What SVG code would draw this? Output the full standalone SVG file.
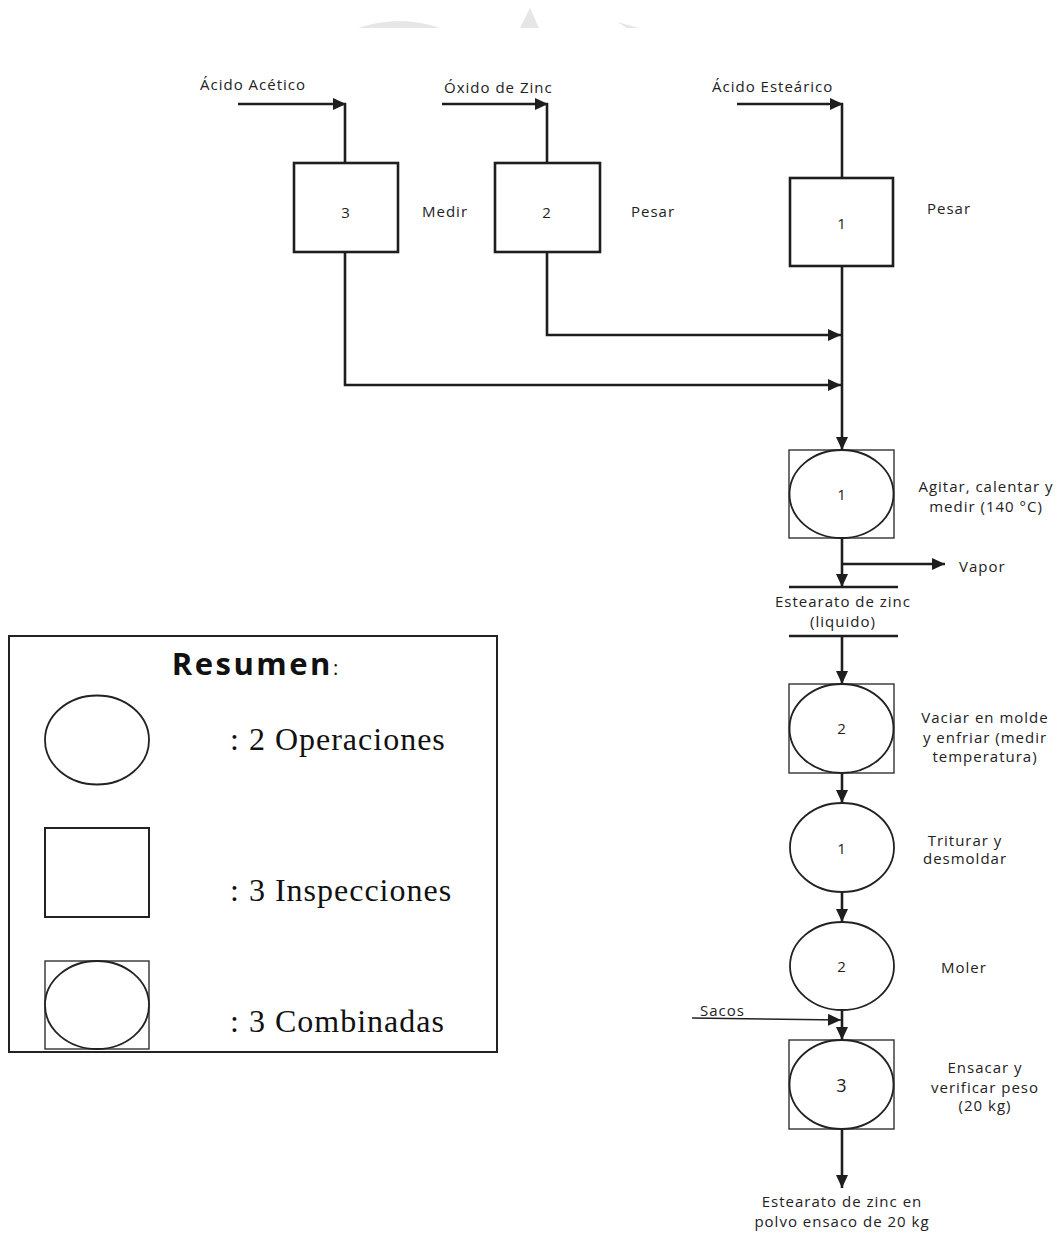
<svg xmlns="http://www.w3.org/2000/svg" width="1060" height="1234" viewBox="0 0 1060 1234">
<style>
.t{font-family:"Open Sans","Noto Sans",sans-serif;font-size:15px;fill:#222;letter-spacing:1px}
.m{text-anchor:middle}
.ln{fill:none;stroke:#1e1e1e;stroke-width:2.6}
.thin{fill:none;stroke:#222;stroke-width:1.5}
.sq{fill:#fff;stroke:#1e1e1e;stroke-width:2.6}
.cb{fill:#fff;stroke:#333;stroke-width:1.4}
.el{fill:#fff;stroke:#222;stroke-width:1.8}
.lg{font-family:"Liberation Serif","Times New Roman",serif;font-size:32px;fill:#111;letter-spacing:1px}
</style>
<defs>
<marker id="ah" markerUnits="userSpaceOnUse" markerWidth="14" markerHeight="12" refX="13" refY="6" orient="auto">
<path d="M0,0 L13,6 L0,12 Z" fill="#1e1e1e"/>
</marker>
</defs>
<rect width="1060" height="1234" fill="#fff"/>
<g id="watermark" fill="#e6e6e6">
<path d="M358,28 Q400,14 440,28 Z"/>
<path d="M520,28 L530,8 L539,28 Z"/>
<path d="M617,22 L639,28 L627,28 Z"/>
</g>
<g id="connectors">
<path class="ln" d="M238,104 H346" marker-end="url(#ah)"/>
<path class="ln" d="M345,103 V163"/>
<path class="ln" d="M442,104 H548" marker-end="url(#ah)"/>
<path class="ln" d="M547,103 V163"/>
<path class="ln" d="M737,104 H843" marker-end="url(#ah)"/>
<path class="ln" d="M842,103 V178"/>
<path class="ln" d="M547,252 V335 H841" marker-end="url(#ah)"/>
<path class="ln" d="M345,252 V385 H841" marker-end="url(#ah)"/>
<path class="ln" d="M842,266 V450" marker-end="url(#ah)"/>
<path class="ln" d="M842,538 V587" marker-end="url(#ah)"/>
<path class="ln" d="M842,564 H945" marker-end="url(#ah)"/>
<path class="ln" d="M789,587 H898 M789,636 H898"/>
<path class="ln" d="M842,636 V684" marker-end="url(#ah)"/>
<path class="ln" d="M842,773 V803" marker-end="url(#ah)"/>
<path class="ln" d="M842,892 V922" marker-end="url(#ah)"/>
<path class="ln" d="M842,1010 V1040" marker-end="url(#ah)"/>
<path class="thin" d="M692,1018 L841,1020" marker-end="url(#ah)"/>
<path class="ln" d="M842,1129 V1188" marker-end="url(#ah)"/>
</g>
<g id="inputs">
<text class="t" x="200" y="90">Ácido Acético</text>
<text class="t" x="444" y="93">Óxido de Zinc</text>
<text class="t" x="712" y="92">Ácido Esteárico</text>
</g>
<g id="insp3">
<rect class="sq" x="294" y="163" width="104" height="89"/>
<text class="t m" x="346" y="218">3</text>
<text class="t" x="422" y="217">Medir</text>
</g>
<g id="insp2">
<rect class="sq" x="495" y="163" width="105" height="89"/>
<text class="t m" x="547" y="218">2</text>
<text class="t" x="631" y="217">Pesar</text>
</g>
<g id="insp1">
<rect class="sq" x="790" y="178" width="103" height="88"/>
<text class="t m" x="842" y="229">1</text>
<text class="t" x="927" y="214">Pesar</text>
</g>
<g id="comb1">
<rect class="cb" x="789" y="450" width="105" height="88"/>
<ellipse class="el" cx="841.5" cy="494" rx="52" ry="44"/>
<text class="t m" x="842" y="500">1</text>
<text class="t m" x="986" y="492">Agitar, calentar y</text>
<text class="t m" x="986" y="512">medir (140 °C)</text>
</g>
<g id="vapor"><text class="t" x="959" y="572">Vapor</text></g>
<g id="liquido">
<text class="t m" x="843" y="607">Estearato de zinc</text>
<text class="t m" x="843" y="627">(liquido)</text>
</g>
<g id="comb2">
<rect class="cb" x="789" y="684" width="105" height="89"/>
<ellipse class="el" cx="841.5" cy="728.5" rx="52" ry="44.5"/>
<text class="t m" x="842" y="734">2</text>
<text class="t m" x="985" y="723">Vaciar en molde</text>
<text class="t m" x="985" y="743">y enfriar (medir</text>
<text class="t m" x="985" y="762">temperatura)</text>
</g>
<g id="op1">
<ellipse class="el" cx="842" cy="847.5" rx="52" ry="44.5"/>
<text class="t m" x="842" y="854">1</text>
<text class="t m" x="965" y="846">Triturar y</text>
<text class="t m" x="965" y="864">desmoldar</text>
</g>
<g id="op2">
<ellipse class="el" cx="842" cy="966" rx="52" ry="44"/>
<text class="t m" x="842" y="972">2</text>
<text class="t" x="941" y="973">Moler</text>
</g>
<g id="sacos"><text class="t" x="700" y="1016">Sacos</text></g>
<g id="comb3">
<rect class="cb" x="789" y="1040" width="105" height="89"/>
<ellipse class="el" cx="841.5" cy="1084.5" rx="52" ry="44.5"/>
<text class="t m" x="842" y="1092" style="font-size:18px">3</text>
<text class="t m" x="985" y="1073">Ensacar y</text>
<text class="t m" x="985" y="1093">verificar peso</text>
<text class="t m" x="985" y="1111">(20 kg)</text>
</g>
<g id="output">
<text class="t m" x="842" y="1207">Estearato de zinc en</text>
<text class="t m" x="842" y="1227">polvo ensaco de 20 kg</text>
</g>
<g id="legend">
<rect x="9" y="636" width="488" height="416" fill="#fff" stroke="#222" stroke-width="2"/>
<text x="255" y="675" text-anchor="middle" style="font-family:'Open Sans','Noto Sans',sans-serif;font-size:31px;font-weight:bold;fill:#111;letter-spacing:2.5px">Resumen<tspan style="font-weight:normal;font-size:20px;letter-spacing:0">:</tspan></text>
<ellipse class="el" cx="97" cy="740" rx="52" ry="44.5"/>
<text class="lg" x="230" y="750">: 2 Operaciones</text>
<rect x="45" y="828" width="104" height="89" fill="#fff" stroke="#222" stroke-width="2"/>
<text class="lg" x="230" y="901">: 3 Inspecciones</text>
<rect class="cb" x="45" y="961" width="104" height="88"/>
<ellipse class="el" cx="97" cy="1005" rx="52" ry="44"/>
<text class="lg" x="230" y="1032">: 3 Combinadas</text>
</g>
</svg>
